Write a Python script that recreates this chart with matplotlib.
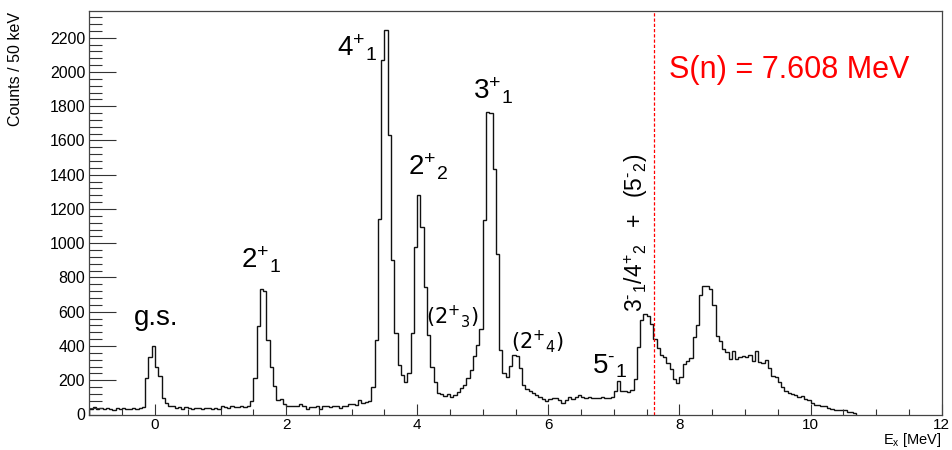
import numpy as np
import matplotlib
matplotlib.use("Agg")
import matplotlib.pyplot as plt
from matplotlib.ticker import MultipleLocator

plt.rcParams['font.family'] = ['Liberation Sans', 'DejaVu Sans']
plt.rcParams['mathtext.fontset'] = 'custom'
plt.rcParams['mathtext.rm'] = 'Liberation Sans'
plt.rcParams['mathtext.it'] = 'Liberation Sans:italic'
plt.rcParams['mathtext.bf'] = 'Liberation Sans:bold'

# Excitation-energy spectrum, 50 keV bins starting at -1 MeV
BIN_LOW = -1.0      # MeV
BIN_WIDTH = 0.05    # MeV

counts_m1 = [35, 42, 30, 38, 33, 40, 35, 28, 36, 30,
             38, 32, 30, 36, 34, 38, 45, 211, 337, 401]      # -1.00 .. -0.05
counts_0 = [279, 224, 94, 65, 48, 50, 38, 45, 30, 45,
            36, 32, 40, 36, 34, 40, 36, 32, 36, 34]          # 0.00 .. 0.95
counts_1 = [52, 46, 38, 48, 42, 45, 48, 45, 52, 80,
            211, 516, 730, 722, 434, 279, 166, 85, 88, 60]   # 1.00 .. 1.95
counts_2 = [52, 49, 49, 52, 61, 49, 30, 42, 42, 49,
            30, 49, 49, 42, 49, 49, 38, 49, 49, 61]          # 2.00 .. 2.95
counts_3 = [61, 55, 84, 70, 73, 79, 160, 434, 1144, 2067,
            2245, 1630, 901, 473, 290, 230, 191, 244, 473, 978]  # 3.00 .. 3.95
counts_4 = [1280, 1095, 745, 463, 279, 191, 127, 118, 108, 120,
            100, 112, 130, 153, 172, 211, 260, 341, 405, 502]    # 4.00 .. 4.95
counts_5 = [1134, 1766, 1758, 1435, 940, 376, 240, 220, 283, 347,
            341, 270, 172, 150, 135, 125, 114, 100, 90, 78]      # 5.00 .. 5.95
counts_6 = [92, 94, 94, 85, 65, 85, 100, 90, 100, 114,
            105, 94, 100, 94, 94, 94, 100, 94, 94, 100]          # 6.00 .. 6.95
counts_7 = [140, 195, 135, 140, 133, 145, 205, 395, 551, 586,
            575, 528, 440, 390, 350, 338, 300, 265, 210, 185]    # 7.00 .. 7.95
counts_8 = [220, 295, 310, 330, 450, 525, 700, 752, 748, 735,
            640, 460, 430, 385, 366, 322, 368, 322, 338, 340]    # 8.00 .. 8.95
counts_9 = [337, 345, 310, 368, 305, 300, 316, 272, 226, 220,
            190, 158, 140, 128, 120, 114, 104, 108, 92, 82]      # 9.00 .. 9.95
counts_10 = [66, 56, 55, 52, 50, 36, 30, 26, 27, 26,
             28, 12, 16, 10]                                     # 10.00 .. 10.65

counts = (counts_m1 + counts_0 + counts_1 + counts_2 + counts_3 + counts_4 +
          counts_5 + counts_6 + counts_7 + counts_8 + counts_9 + counts_10)
edges = BIN_LOW + BIN_WIDTH * np.arange(len(counts) + 1)

S_N = 7.608  # neutron separation energy, MeV

x_range = (-1, 12)
y_range = (0, 2356)

fig = plt.figure(figsize=(9.53, 4.5), dpi=100)
W, H = 953.0, 450.0
ax = fig.add_axes([89.4 / W, 35.5 / H, (941.7 - 89.4) / W, (414.5 - 11) / H])

ax.stairs(counts, edges, baseline=0, color='#111111', lw=1.0)
ax.axvline(S_N, color='red', lw=0.9, ls=(0, (2.6, 1.6)))

ax.set_xlim(*x_range)
ax.set_ylim(*y_range)

ax.xaxis.set_major_locator(MultipleLocator(2))
ax.xaxis.set_minor_locator(MultipleLocator(0.5))
ax.yaxis.set_major_locator(MultipleLocator(200))
ax.yaxis.set_minor_locator(MultipleLocator(40))

ax.tick_params(which='both', direction='in', top=False, right=False,
               color='#333333', width=0.8)
ax.tick_params(axis='x', which='major', length=8, pad=2.5, labelsize=11)
ax.tick_params(axis='x', which='minor', length=4)
ax.tick_params(axis='y', which='major', length=19.4, pad=3, labelsize=11.5)
ax.tick_params(axis='y', which='minor', length=9.5)
for sp in ax.spines.values():
    sp.set_color('#444444')
    sp.set_linewidth(0.9)

fig.text(16 / W, 1 - 12 / H, 'Counts / 50 keV', rotation=90,
         ha='center', va='top', fontsize=11.5)
fig.text(941.7 / W, 1 - 449 / H, r'$\mathregular{E_{x}}$ [MeV]',
         ha='right', va='bottom', fontsize=10.5)

# state labels (short hyphen used for negative parity)
HY = '\u2010'
big = 20
ax.text(0.02, 522, 'g.s.', ha='center', va='baseline', fontsize=big)
ax.text(1.306, 853, r'$\mathregular{2^{+}{}_{1}}$', ha='left', va='baseline', fontsize=big)
ax.text(2.77, 2089, r'$\mathregular{4^{+}{}_{1}}$', ha='left', va='baseline', fontsize=big)
ax.text(3.857, 1398, r'$\mathregular{2^{+}{}_{2}}$', ha='left', va='baseline', fontsize=big)
ax.text(4.848, 1842, r'$\mathregular{3^{+}{}_{1}}$', ha='left', va='baseline', fontsize=big)
ax.text(6.672, 240, r'$\mathregular{5^{%s}{}_{1}}$' % HY, ha='left', va='baseline',
        fontsize=big)
ax.text(4.127, 534, r'$\mathregular{(2^{+}{}_{3})}$', ha='left', va='baseline',
        fontsize=15, family='DejaVu Sans')
ax.text(5.437, 386, r'$\mathregular{(2^{+}{}_{4})}$', ha='left', va='baseline',
        fontsize=15, family='DejaVu Sans')
ax.text(7.343, 600,
        r'$\mathregular{3^{%s}{}_{1}/4^{+}{}_{2}\ \ +\ \ (5^{%s}{}_{2})}$' % (HY, HY),
        rotation=90, ha='center', va='bottom', fontsize=16.5)

ax.text(7.835, 1967, f'S(n) = {S_N:.3f} MeV', color='red', fontsize=22,
        ha='left', va='baseline')

fig.savefig('out.png', dpi=100, facecolor='white')
